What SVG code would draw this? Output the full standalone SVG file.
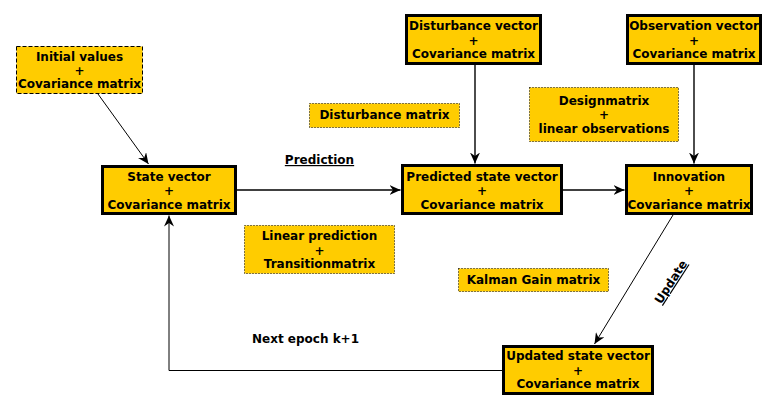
<svg xmlns="http://www.w3.org/2000/svg" width="777" height="410" viewBox="0 0 777 410">
<style>
text{font-family:"DejaVu Sans","Noto Sans",sans-serif;font-weight:bold;font-size:12px;fill:#000;text-anchor:middle}
.main{fill:#ffcc00;stroke:#000;stroke-width:3}
.dot{fill:#ffcc00;stroke:#000;stroke-width:1;stroke-dasharray:1,2}
.dash{fill:#ffcc00;stroke:#000;stroke-width:1;stroke-dasharray:4,2}
.c{fill:none;stroke:#000;stroke-width:1.4}
.t{fill:none;stroke:#000;stroke-width:1}
.u{text-decoration:underline}
</style>
<defs>
<marker id="ah" viewBox="0 0 12 10" markerUnits="userSpaceOnUse" markerWidth="12" markerHeight="10" refX="11" refY="5" orient="auto">
<path d="M11,5 L0,0 L3.5,5 L0,10 Z" fill="#000"/>
</marker>
</defs>
<g id="connectors">
<path class="t" d="M98,94 L148.5,164" marker-end="url(#ah)"/>
<path class="c" d="M237,190 L400.5,190" marker-end="url(#ah)"/>
<path class="c" d="M475,65 L475,163.5" marker-end="url(#ah)"/>
<path class="c" d="M563,190 L624.5,190" marker-end="url(#ah)"/>
<path class="c" d="M694,65 L694,163.5" marker-end="url(#ah)"/>
<path class="t" d="M673,215 L594.5,344" marker-end="url(#ah)"/>
<path class="t" d="M502,370.5 L169,370.5 L169,215.5" marker-end="url(#ah)"/>
</g>
<g id="initial">
<rect class="dash" x="16.5" y="46.5" width="126" height="47"/>
<text x="79.5" y="60.5">Initial values</text>
<text x="79.5" y="74.5">+</text>
<text x="79.5" y="88.4">Covariance matrix</text>
</g>
<g id="state">
<rect class="main" x="102.5" y="166.5" width="133" height="47"/>
<text x="169" y="181">State vector</text>
<text x="169" y="195">+</text>
<text x="169" y="208.6">Covariance matrix</text>
</g>
<g id="disturbance-vector">
<rect class="main" x="406.5" y="15.5" width="134" height="48"/>
<text x="473.5" y="30.4">Disturbance vector</text>
<text x="473.5" y="44.5">+</text>
<text x="473.5" y="58.4">Covariance matrix</text>
</g>
<g id="predicted">
<rect class="main" x="402.5" y="165.5" width="159" height="48"/>
<text x="482" y="181">Predicted state vector</text>
<text x="482" y="195">+</text>
<text x="482" y="208.6">Covariance matrix</text>
</g>
<g id="observation">
<rect class="main" x="627.5" y="15.5" width="133" height="48"/>
<text x="694" y="30.4">Observation vector</text>
<text x="694" y="44.5">+</text>
<text x="694" y="58.4">Covariance matrix</text>
</g>
<g id="innovation">
<rect class="main" x="626.5" y="165.5" width="125" height="48"/>
<text x="689" y="181">Innovation</text>
<text x="689" y="195">+</text>
<text x="689" y="208.6">Covariance matrix</text>
</g>
<g id="updated">
<rect class="main" x="503.5" y="346.5" width="149" height="47"/>
<text x="578" y="360.4">Updated state vector</text>
<text x="578" y="374.5">+</text>
<text x="578" y="388.4">Covariance matrix</text>
</g>
<g id="disturbance-matrix">
<rect class="dot" x="309.5" y="103.5" width="150" height="24"/>
<text x="384.5" y="119.4">Disturbance matrix</text>
</g>
<g id="designmatrix">
<rect class="dot" x="529.5" y="87.5" width="149" height="54"/>
<text x="604" y="105">Designmatrix</text>
<text x="604" y="119.2">+</text>
<text x="604" y="133.4">linear observations</text>
</g>
<g id="linear-prediction">
<rect class="dot" x="244.5" y="225.5" width="150" height="48"/>
<text x="319.5" y="240.4">Linear prediction</text>
<text x="319.5" y="254.5">+</text>
<text x="319.5" y="268.4">Transitionmatrix</text>
</g>
<g id="kalman">
<rect class="dot" x="458.5" y="268.5" width="150" height="23"/>
<text x="533.5" y="284.4">Kalman Gain matrix</text>
</g>
<g id="labels">
<text class="u" x="319.5" y="164">Prediction</text>
<text x="305.5" y="343.4">Next epoch k+1</text>
<text class="u" transform="translate(671,282) rotate(-57)" x="0" y="4">Update</text>
</g>
</svg>
